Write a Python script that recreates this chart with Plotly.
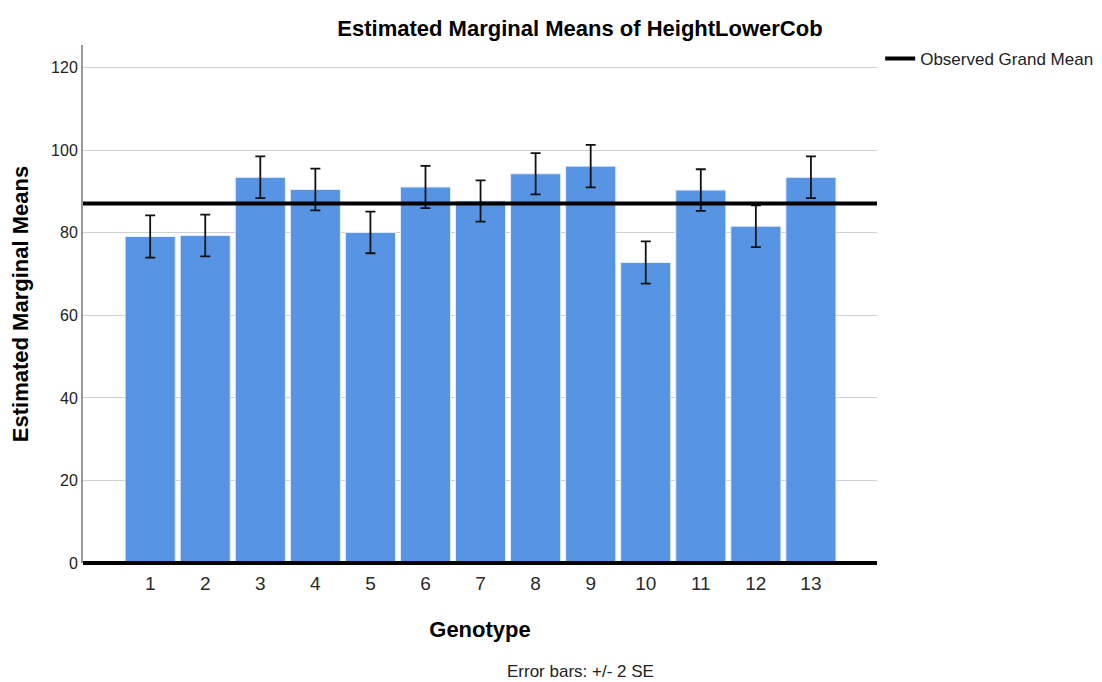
import plotly.graph_objects as go

genotypes = [1, 2, 3, 4, 5, 6, 7, 8, 9, 10, 11, 12, 13]
means = [79.1, 79.35, 93.45, 90.5, 80.1, 91.1, 87.7, 94.3, 96.15, 72.8, 90.35, 81.6, 93.45]
two_se = [5.1, 5.05, 5.05, 5.05, 5.05, 5.1, 5.0, 5.0, 5.15, 5.1, 5.05, 5.05, 5.05]
grand_mean = 87.1
y_ticks = [0, 20, 40, 60, 80, 100, 120]

FONT = "Liberation Sans"
x_range = [-0.22, 14.2]

fig = go.Figure()
fig.add_trace(go.Bar(
    x=genotypes, y=means,
    marker=dict(color="#5795e4", line=dict(color="#e6eefa", width=1)),
    error_y=dict(type="data", array=two_se, visible=True, color="#111111", thickness=1.8, width=5),
    showlegend=False, hoverinfo="x+y",
))
fig.add_trace(go.Scatter(
    x=x_range, y=[grand_mean, grand_mean], mode="lines",
    line=dict(color="black", width=4), name="Observed Grand Mean", showlegend=True,
))

fig.add_shape(type="line", xref="paper", yref="paper", x0=0, x1=1, y0=0, y1=0,
              line=dict(color="black", width=4), layer="above")

fig.update_layout(
    width=1102, height=682,
    margin=dict(l=83, r=225, t=45, b=119, autoexpand=False),
    plot_bgcolor="white", paper_bgcolor="white",
    bargap=0.09,
    font=dict(family=FONT, color="#222"),
    title=dict(text="<b>Estimated Marginal Means of HeightLowerCob</b>",
               x=(580 - 83) / 794, xref="paper", xanchor="center",
               y=1 - 28 / 682, yanchor="middle", font=dict(size=22, color="black")),
    legend=dict(x=1.004, xanchor="left", y=1.008, yanchor="top",
                font=dict(size=17, color="#222"), bgcolor="rgba(0,0,0,0)",
                itemwidth=30, tracegroupgap=0),
    xaxis=dict(range=x_range, tickmode="array", tickvals=genotypes,
               ticktext=[str(g) for g in genotypes], showgrid=False, zeroline=False,
               showline=False, ticks="", tickfont=dict(size=19, color="#2a2a2a"),
               ticklabelstandoff=7,
               title=dict(text="<b>Genotype</b>", font=dict(size=22, color="black"), standoff=28)),
    yaxis=dict(range=[0, 125.5], tickmode="array", tickvals=y_ticks,
               showgrid=True, gridcolor="#d0d0d0", gridwidth=1.3, zeroline=False,
               showline=True, linecolor="#999999", linewidth=2, ticks="",
               tickfont=dict(size=16, color="#222"),
               title=dict(text="<b>Estimated Marginal Means</b>", font=dict(size=22, color="black"), standoff=16)),
)

fig.add_annotation(text="Error bars: +/- 2 SE", xref="paper", yref="paper",
                   x=(580 - 83) / 794, y=-(671 - 563) / 518, xanchor="center", yanchor="middle",
                   showarrow=False, font=dict(size=17, color="#222"))

fig.write_html("out.html")
